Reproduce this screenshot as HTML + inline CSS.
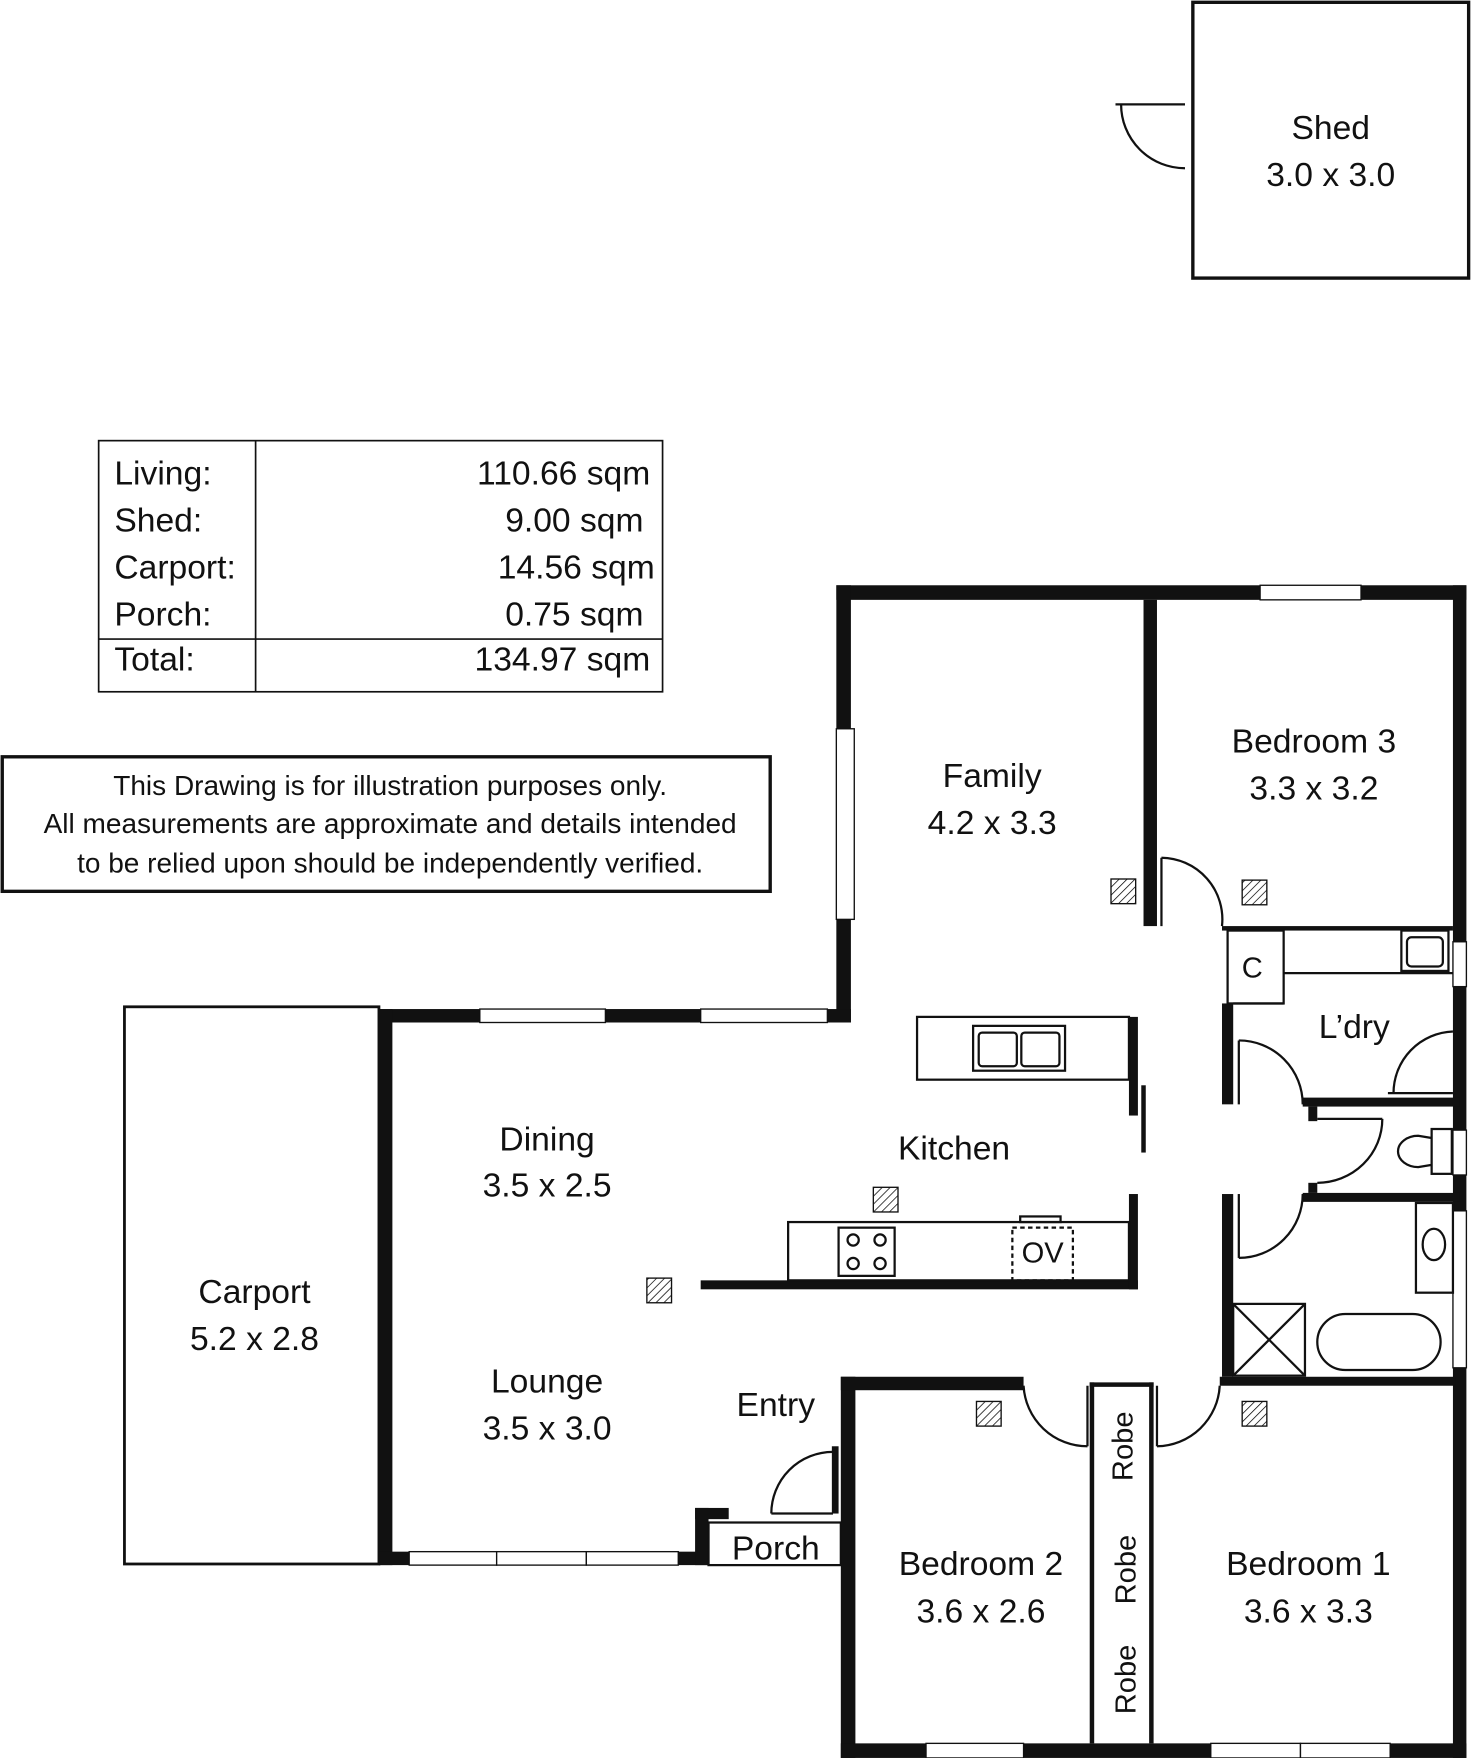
<!DOCTYPE html>
<html><head><meta charset="utf-8"><style>
html,body{margin:0;padding:0;background:#fff}
svg{display:block}
text{font-family:"Liberation Sans",sans-serif;fill:#111}
</style></head><body>
<svg width="1472" height="1758" viewBox="0 0 1313 1568" xmlns="http://www.w3.org/2000/svg">
<defs>
<pattern id="h" width="5" height="5" patternUnits="userSpaceOnUse" patternTransform="rotate(45)">
<line x1="0" y1="0" x2="0" y2="5" stroke="#000" stroke-width="1.3"/></pattern>
</defs>
<rect width="1313" height="1568" fill="#fff"/>
<!-- Shed -->
<rect x="1064" y="2" width="246" height="246" fill="none" stroke="#111" stroke-width="3"/>
<line x1="995" y1="93" x2="1057" y2="93" stroke="#111" stroke-width="2"/>
<path d="M1000 93 A57 57 0 0 0 1057 150" fill="none" stroke="#111" stroke-width="2"/>
<text x="1187" y="124" font-size="30" text-anchor="middle">Shed</text>
<text x="1187" y="166" font-size="30" text-anchor="middle">3.0 x 3.0</text>
<!-- Table -->
<rect x="88" y="393" width="503" height="224" fill="none" stroke="#111" stroke-width="1.5"/>
<line x1="228" y1="393" x2="228" y2="617" stroke="#111" stroke-width="1.5"/>
<line x1="88" y1="570" x2="591" y2="570" stroke="#111" stroke-width="1.5"/>
<g font-size="30">
<text x="102" y="432">Living:</text><text x="102" y="474">Shed:</text><text x="102" y="516">Carport:</text><text x="102" y="558">Porch:</text><text x="102" y="598">Total:</text>
<text x="580" y="432" text-anchor="end">110.66 sqm</text>
<text x="574" y="474" text-anchor="end">9.00 sqm</text>
<text x="584" y="516" text-anchor="end">14.56 sqm</text>
<text x="574" y="558" text-anchor="end">0.75 sqm</text>
<text x="580" y="598" text-anchor="end">134.97 sqm</text>
</g>
<!-- Disclaimer -->
<rect x="2" y="675" width="685" height="120" fill="none" stroke="#111" stroke-width="3"/>
<g font-size="25" text-anchor="middle">
<text x="348" y="709">This Drawing is for illustration purposes only.</text>
<text x="348" y="743">All measurements are approximate and details intended</text>
<text x="348" y="778">to be relied upon should be independently verified.</text>
</g>
<!-- Carport -->
<rect x="111" y="898" width="227" height="497" fill="none" stroke="#111" stroke-width="2.5"/>
<text x="227" y="1162" font-size="30" text-anchor="middle">Carport</text>
<text x="227" y="1204" font-size="30" text-anchor="middle">5.2 x 2.8</text>
<!-- Walls -->
<g fill="#111">
<rect x="746" y="522" width="562" height="13"/>
<rect x="746" y="522" width="13" height="390"/>
<rect x="338" y="900" width="421" height="12"/>
<rect x="338" y="900" width="12" height="496"/>
<rect x="338" y="1384" width="294" height="12"/>
<rect x="620" y="1345" width="12" height="51"/>
<rect x="620" y="1345" width="30" height="10"/>
<rect x="742" y="1290" width="6" height="60"/>
<rect x="750" y="1228" width="13" height="340"/>
<rect x="750" y="1228" width="163" height="12"/>
<rect x="750" y="1555" width="558" height="13"/>
<rect x="1296" y="522" width="12" height="1046"/>
<rect x="1020" y="535" width="12" height="291"/>
<rect x="1088" y="1228" width="210" height="8"/>
<rect x="625" y="1142" width="390" height="8"/>
<rect x="1007" y="1065" width="8" height="85"/>
<rect x="1007" y="907" width="8" height="88"/>
<rect x="1018" y="968" width="4" height="60"/>
<rect x="1090" y="895" width="10" height="90"/>
<rect x="1090" y="1065" width="10" height="163"/>
<rect x="1090" y="826" width="206" height="4"/>
<rect x="972" y="1233" width="4" height="322"/>
<rect x="1025" y="1233" width="4" height="322"/>
<rect x="972" y="1233" width="57" height="4"/>
<!-- toilet walls -->
<rect x="1162" y="979" width="140" height="8"/>
<rect x="1162" y="1064" width="140" height="8"/>
<rect x="1167" y="987" width="8" height="13"/>
<rect x="1167" y="1055" width="8" height="9"/>
</g>
<!-- windows -->
<g fill="#fff" stroke="#111" stroke-width="1.2">
<rect x="1124" y="522" width="90" height="13"/>
<rect x="746" y="650" width="16" height="170"/>
<rect x="428" y="900" width="112" height="12"/>
<rect x="625" y="900" width="113" height="12"/>
<rect x="365" y="1384" width="78" height="12"/><rect x="443" y="1384" width="80" height="12"/><rect x="523" y="1384" width="82" height="12"/>
<rect x="826" y="1555" width="87" height="13"/>
<rect x="1080" y="1555" width="80" height="13"/><rect x="1160" y="1555" width="80" height="13"/>
<rect x="1296" y="840" width="12" height="40"/>
<rect x="1296" y="1008" width="12" height="40"/>
<rect x="1296" y="1080" width="12" height="140"/>
</g>
<!-- interior thin lines -->
<g fill="none" stroke="#111" stroke-width="2">
<rect x="1095" y="830" width="50" height="65"/>
<line x1="1145" y1="868" x2="1296" y2="868"/>
<line x1="1100" y1="895" x2="1145" y2="895"/>
<rect x="1250" y="830" width="42" height="36"/><rect x="1255" y="836" width="32" height="26" rx="4"/>
<rect x="1263" y="1073" width="33" height="80"/>
<ellipse cx="1279" cy="1110" rx="10" ry="14"/>
<rect x="1100" y="1163" width="64" height="64"/>
<line x1="1100" y1="1163" x2="1164" y2="1227"/><line x1="1164" y1="1163" x2="1100" y2="1227"/>
<rect x="1175" y="1172" width="110" height="50" rx="25"/>
<rect x="1277" y="1007" width="18" height="40"/>
<path d="M1277 1015 L1265 1013 A18 14 0 1 0 1265 1041 L1277 1039"/>
<rect x="818" y="907" width="189" height="56"/>
<rect x="868" y="915" width="82" height="40"/><rect x="873" y="921" width="34" height="30" rx="3"/><rect x="911" y="921" width="34" height="30" rx="3"/>
<rect x="703" y="1090" width="304" height="52"/>
<rect x="748" y="1095" width="50" height="43"/>
<circle cx="761" cy="1106" r="5"/><circle cx="785" cy="1106" r="5"/><circle cx="761" cy="1127" r="5"/><circle cx="785" cy="1127" r="5"/>
<rect x="903" y="1095" width="54" height="47" stroke-dasharray="4 3"/>
<rect x="910" y="1085" width="36" height="5"/>
<rect x="632" y="1358" width="118" height="38"/>
<!-- doors -->
<path d="M1036 765 A55 55 0 0 1 1090 826"/><line x1="1036" y1="765" x2="1036" y2="826"/>
<path d="M1105 928 A57 57 0 0 1 1162 985"/><line x1="1105" y1="928" x2="1105" y2="985"/>
<path d="M1296 920 A55 55 0 0 0 1243 975"/><line x1="1238" y1="975" x2="1296" y2="975"/>
<path d="M1233 998 A58 57 0 0 1 1175 1055"/><line x1="1175" y1="998" x2="1233" y2="998"/>
<path d="M1105 1122 A57 57 0 0 0 1162 1065"/><line x1="1105" y1="1065" x2="1105" y2="1122"/>
<path d="M913 1236 A57 57 0 0 0 970 1290"/><line x1="970" y1="1236" x2="970" y2="1290"/>
<path d="M1088 1236 A57 57 0 0 1 1032 1290"/><line x1="1032" y1="1236" x2="1032" y2="1290"/>
<path d="M688 1350 A55 55 0 0 1 743 1295"/><line x1="688" y1="1350" x2="743" y2="1350"/>
</g>
<!-- hatches -->
<g fill="url(#h)" stroke="#111" stroke-width="1.2">
<rect x="991" y="784" width="22" height="22"/><rect x="1108" y="785" width="22" height="22"/>
<rect x="779" y="1059" width="22" height="22"/><rect x="577" y="1140" width="22" height="22"/>
<rect x="871" y="1250" width="22" height="22"/><rect x="1108" y="1250" width="22" height="22"/>
</g>
<!-- labels -->
<g font-size="30" text-anchor="middle">
<text x="885" y="702">Family</text><text x="885" y="744">4.2 x 3.3</text>
<text x="1172" y="671">Bedroom 3</text><text x="1172" y="713">3.3 x 3.2</text>
<text x="488" y="1026">Dining</text><text x="488" y="1067">3.5 x 2.5</text>
<text x="851" y="1034">Kitchen</text>
<text x="488" y="1242">Lounge</text><text x="488" y="1284">3.5 x 3.0</text>
<text x="692" y="1263">Entry</text>
<text x="692" y="1391">Porch</text>
<text x="875" y="1405">Bedroom 2</text><text x="875" y="1447">3.6 x 2.6</text>
<text x="1167" y="1405">Bedroom 1</text><text x="1167" y="1447">3.6 x 3.3</text>
<text x="1208" y="926">L’dry</text>
<text x="1117" y="872" font-size="26">C</text>
<text x="930" y="1126" font-size="26">OV</text>
</g>
<g font-size="26" text-anchor="middle">
<text transform="translate(1010,1290) rotate(-90)">Robe</text>
<text transform="translate(1013,1400) rotate(-90)">Robe</text>
<text transform="translate(1013,1498) rotate(-90)">Robe</text>
</g>
</svg>
</body></html>
